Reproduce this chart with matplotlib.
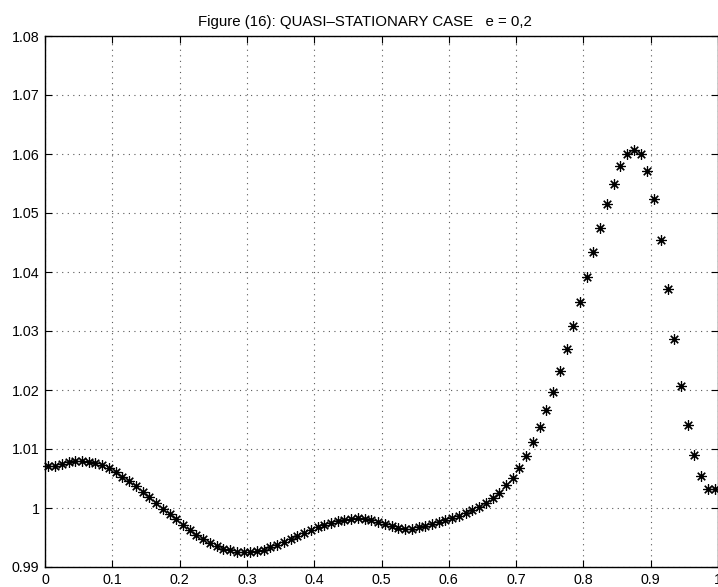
import numpy as np
import matplotlib
matplotlib.use("Agg")
import matplotlib.pyplot as plt

plt.rcParams['font.family'] = ['Liberation Sans', 'DejaVu Sans']

# x positions: 100 samples at cell midpoints
x_vals = np.round(np.arange(100) * 0.01 + 0.005, 3)
y_vals = [
    1.00706, 1.00718, 1.00751, 1.00774, 1.00791, 1.00797, 1.00785, 1.00763, 1.00723, 1.00672,
    1.00605, 1.00531, 1.00452, 1.00367, 1.00277, 1.00181, 1.00085, 0.99989, 0.99898, 0.99808,
    0.99718, 0.99627, 0.99548, 0.99469, 0.99407, 0.99356, 0.99311, 0.99282, 0.99260, 0.99249,
    0.99249, 0.99266, 0.99294, 0.99333, 0.99379, 0.99424, 0.99475, 0.99531, 0.99582, 0.99633,
    0.99678, 0.99718, 0.99751, 0.99780, 0.99802, 0.99819, 0.99828, 0.99814, 0.99791, 0.99763,
    0.99723, 0.99695, 0.99667, 0.99650, 0.99650, 0.99672, 0.99695, 0.99723, 0.99757, 0.99791,
    0.99830, 0.99870, 0.99915, 0.99960, 1.00017, 1.00085, 1.00164, 1.00259, 1.00382, 1.00514,
    1.00683, 1.00881, 1.01114, 1.01368, 1.01656, 1.01971, 1.02322, 1.02695, 1.03085, 1.03497,
    1.03920, 1.04344, 1.04746, 1.05147, 1.05497, 1.05791, 1.06000, 1.06065, 1.06000, 1.05717,
    1.05232, 1.04537, 1.03717, 1.02859, 1.02068, 1.01407, 1.00903, 1.00548, 1.00317, 1.00317,
]

x_ticks = [0, 0.1, 0.2, 0.3, 0.4, 0.5, 0.6, 0.7, 0.8, 0.9, 1.0]
x_tick_labels = ['0', '0.1', '0.2', '0.3', '0.4', '0.5', '0.6', '0.7', '0.8', '0.9', '1']
y_ticks = [0.99, 1.00, 1.01, 1.02, 1.03, 1.04, 1.05, 1.06, 1.07, 1.08]
y_tick_labels = ['0.99', '1', '1.01', '1.02', '1.03', '1.04', '1.05', '1.06', '1.07', '1.08']
title = "Figure (16): QUASI\u2013STATIONARY CASE   e = 0,2"

W, H = 718, 587
fig = plt.figure(figsize=(W / 100, H / 100), dpi=100)
ax = fig.add_axes([45 / W, (H - 567) / H, 673 / W, 531 / H])

ax.plot(x_vals, y_vals, linestyle='none', marker=(8, 2, 0), markersize=7.5,
        markeredgewidth=0.85, color='black', clip_on=False)

ax.set_xlim(0, 1)
ax.set_ylim(0.99, 1.08)
ax.set_xticks(x_ticks)
ax.set_xticklabels(x_tick_labels)
ax.set_yticks(y_ticks)
ax.set_yticklabels(y_tick_labels)

ax.tick_params(direction='in', length=5, width=0.8, top=True, right=True,
               labelsize=10.3, colors='black')
ax.tick_params(axis='x', pad=4)
ax.tick_params(axis='y', pad=4)
ax.grid(True, linestyle=(0, (1, 4)), color='0.35', linewidth=0.8)
for s in ax.spines.values():
    s.set_linewidth(1.0)
    s.set_color('black')

ax.set_title(title, fontsize=10.8, pad=7, x=0.476)

fig.savefig('out.png', dpi=100)
